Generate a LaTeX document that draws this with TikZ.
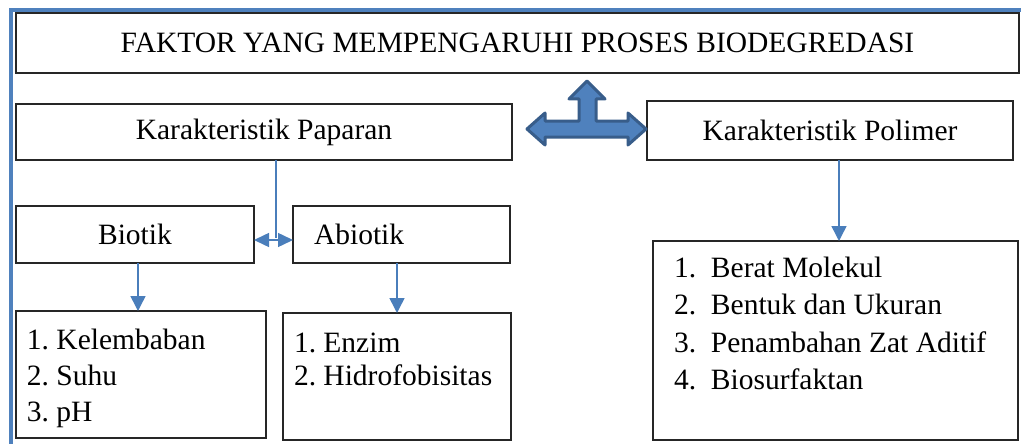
\documentclass[tikz,border=0pt]{standalone}
\usepackage{fontspec}
\setmainfont{Liberation Serif}
\usetikzlibrary{arrows.meta}
\definecolor{frameblue}{HTML}{4F81BD}
\definecolor{linkblue}{HTML}{4A7EBB}
\definecolor{edgeblue}{HTML}{385D8A}
\frenchspacing
\begin{document}
\begin{tikzpicture}[x=1pt,y=-1pt,
  bx/.style={draw=black!85, line width=1.2pt, inner sep=0pt, outer sep=0pt,
    font=\fontsize{29.5}{36}\selectfont},
  link/.style={draw=linkblue, line width=1.5pt, -{Triangle[length=15pt,width=15pt]}},
  dlink/.style={draw=linkblue, line width=1.5pt, {Triangle[length=15pt,width=14pt]}-{Triangle[length=15pt,width=14pt]}},
  plainlink/.style={draw=linkblue, line width=1.5pt},
  bigarrow/.style={fill=frameblue, draw=edgeblue, line width=3pt, line join=round},
]
\useasboundingbox (0,0) rectangle (1021,444);
\fill[white] (0,0) rectangle (1021,444);
\draw[frameblue, line width=4pt] (10.5,447) -- (10.5,10) -- (1024,10);

\node[bx, minimum width=1003pt, minimum height=60pt] (title) at (517.5,43)
  {FAKTOR YANG MEMPENGARUHI PROSES BIODEGREDASI};
\node[bx, minimum width=496pt, minimum height=56pt] (pap) at (264,132)
  {Karakteristik Paparan};
\node[bx, minimum width=366pt, minimum height=59pt] (pol) at (830,130.5)
  {Karakteristik Polimer};
\node[bx, minimum width=238pt, minimum height=57pt] (bio) at (135,234.5)
  {Biotik};
\node[bx, minimum width=217pt, minimum height=57pt] (abio) at (401.5,234.5)
  {\parbox[c][57pt][c]{217pt}{\hspace*{21pt}Abiotik}};
\node[bx] (l1) at (141,374.5)
  {\parbox[c][127pt][t]{250pt}{\vspace*{18pt}\hspace*{11pt}1. Kelembaban\\
   \hspace*{11pt}2. Suhu\\
   \hspace*{11pt}3. pH}};
\node[bx] (l2) at (397,376.5)
  {\parbox[c][127pt][t]{228pt}{\fontsize{29.5}{33}\selectfont\vspace*{20pt}\hspace*{11pt}1. Enzim\\
   \hspace*{11pt}2. Hidrofobisitas}};
\node[bx] (l3) at (835.5,340.5)
  {\parbox[c][199pt][t]{365pt}{\fontsize{29.5}{37.5}\selectfont\vspace*{16pt}%
   \hspace*{21pt}\makebox[37pt][l]{1.}Berat Molekul\\
   \hspace*{21pt}\makebox[37pt][l]{2.}Bentuk dan Ukuran\\
   \hspace*{21pt}\makebox[37pt][l]{3.}Penambahan Zat Aditif\\
   \hspace*{21pt}\makebox[37pt][l]{4.}Biosurfaktan}};

% connectors
\coordinate (j) at (276,240);
\coordinate (c1) at (138,0);
\coordinate (c2) at (397,0);
\coordinate (c3) at (839,0);
\draw[plainlink] (pap.south -| j) -- ([yshift=2pt]j);
\draw[dlink] (bio.east |- j) -- (abio.west |- j);
\draw[link] (bio.south -| c1) -- (l1.north -| c1);
\draw[link] (abio.south -| c2) -- (l2.north -| c2);
\draw[link] (pol.south -| c3) -- (l3.north -| c3);

% three-way block arrow
\draw[bigarrow] (527,129) -- (545,113) -- (545,121) -- (579,121) -- (579,99)
  -- (569,99) -- (587,81) -- (605,99) -- (596,99) -- (596,121) -- (628,121)
  -- (628,113) -- (646,129) -- (628,145) -- (628,137) -- (545,137)
  -- (545,145) -- cycle;
\end{tikzpicture}
\end{document}
